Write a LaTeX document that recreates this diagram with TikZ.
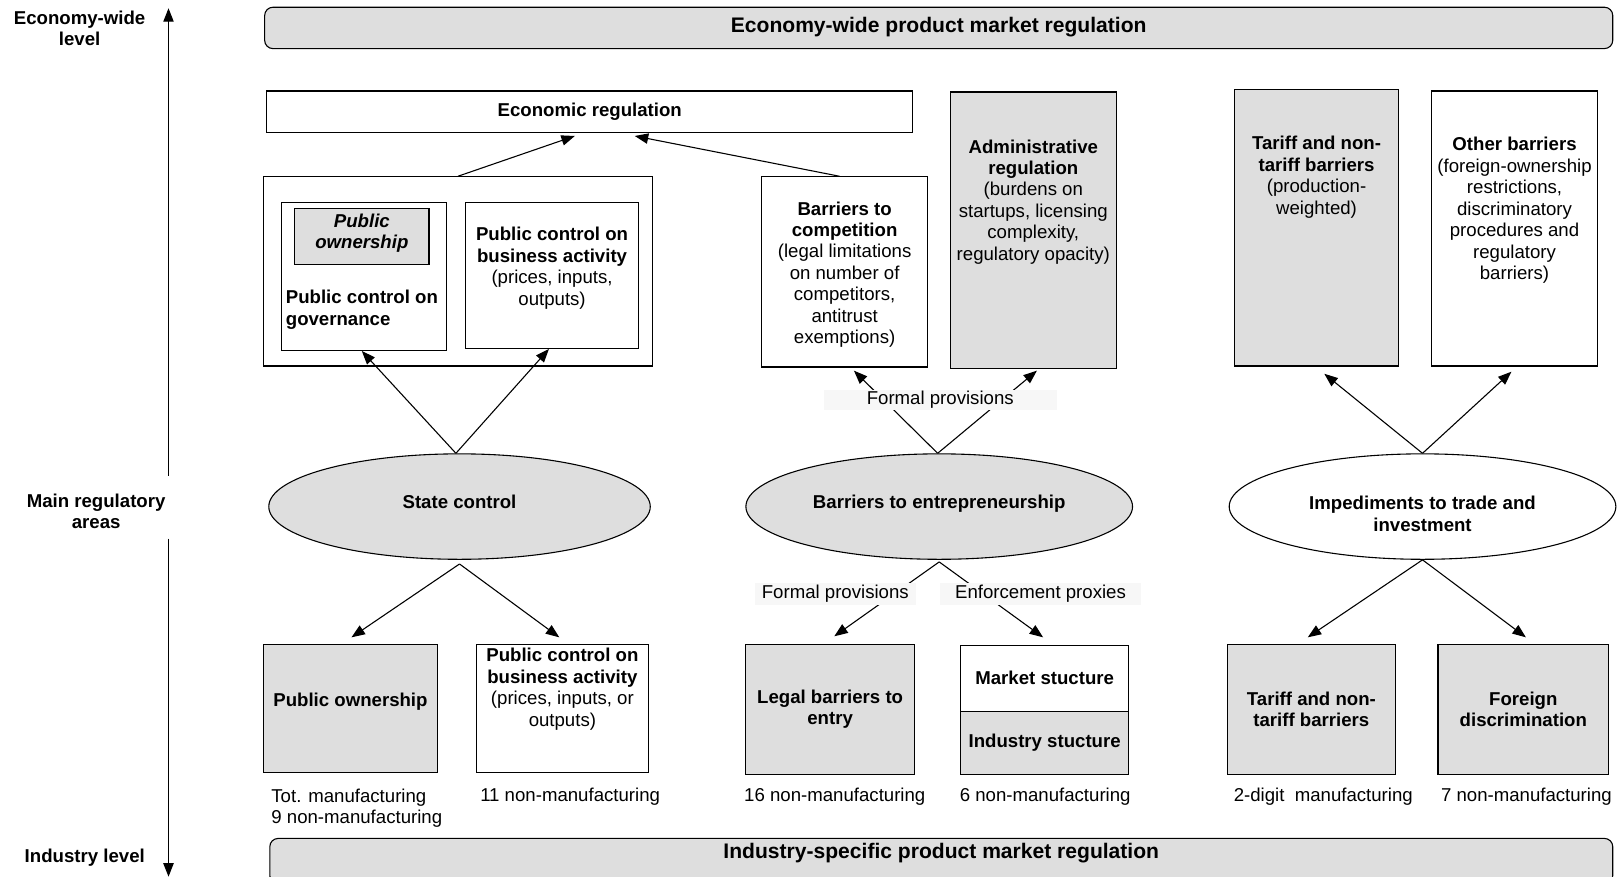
\documentclass[tikz,border=0pt]{standalone}
\usepackage{fontspec}
\setmainfont{Liberation Sans}
\usetikzlibrary{arrows.meta,positioning,shapes.geometric}
\newcommand{\pmrfont}{\fontsize{10.25}{11.8}\selectfont}
\newcommand{\pmrbigfont}{\fontsize{11.6}{13.3}\selectfont}
\tikzset{
  pmr-box/.style={draw=black, fill=white, line width=0.6pt, inner sep=0pt, align=center, font=\pmrfont\bfseries},
  pmr-grey/.style={pmr-box, fill=black!13},
  pmr-area/.style={ellipse, draw=black, line width=0.6pt, align=center, font=\pmrfont\bfseries, inner sep=0pt},
  pmr-banner/.style={draw=black, fill=black!13, rounded corners=0.16cm, line width=0.6pt, font=\pmrbigfont\bfseries},
  pmr-tag/.style={fill=black!3, font=\pmrfont, inner sep=0pt},
  pmr-text/.style={font=\pmrfont, align=center, inner sep=0pt},
  pmr-level/.style={font=\pmrfont\bfseries, align=center, inner sep=0pt}
}
\begin{document}
\begin{tikzpicture}[>={Triangle[length=0.26cm,width=0.2cm]}, line width=0.6pt]
  \useasboundingbox (0,0) rectangle (31.36,-16.96);
  % level axis
  \node[pmr-level] (lvtop) at (1.54,-0.55) {Economy-wide\\level};
  \node[pmr-level] (lvmid) at (1.86,-9.89) {Main regulatory\\areas};
  \node[pmr-level] (lvbot) at (1.64,-16.6) {Industry level};
  \coordinate (axtop) at (3.26,-0.16);
  \coordinate (axupper) at (3.26,-9.2);
  \coordinate (axlower) at (3.26,-10.42);
  \coordinate (axbot) at (3.26,-16.96);
  \draw[->] (axupper) -- (axtop);
  \draw[->] (axlower) -- (axbot);
  % banners
  \node[pmr-banner, minimum width=26.08cm, minimum height=0.8cm, text depth=0.1cm] (ewbar) at (18.16,-0.54) {Economy-wide product market regulation};
  \node[pmr-banner, minimum width=25.98cm, minimum height=0.88cm] (indbar) at (18.21,-16.66) {};
  \node[pmr-level, font=\pmrbigfont\bfseries] (indtitle) at (indbar.north) [yshift=-0.3cm] {Industry-specific product market regulation};
  % economy-wide indicators
  \node[pmr-box, minimum width=12.5cm, minimum height=0.8cm] (econ) at (11.41,-2.16) {Economic regulation};
  \node[pmr-box, minimum width=7.52cm, minimum height=3.66cm] (stbox) at (8.86,-5.25) {};
  \node[pmr-box, minimum width=3.2cm, minimum height=2.86cm] (govbox) at (7.04,-5.35) {};
  \node[pmr-grey, minimum width=2.6cm, minimum height=1.08cm, text depth=0.22cm, font=\pmrfont\bfseries\itshape] (pubown) at (7.0,-4.58) {Public\\ownership};
  \node[pmr-text, anchor=west, align=left, font=\pmrfont\bfseries] (govtext) at (5.52,-5.99) {Public control on\\governance};
  \node[pmr-box, minimum width=3.36cm, minimum height=2.82cm] (bizbox) at (10.68,-5.33) {};
  \node[pmr-text, anchor=north] (biztext) at (bizbox.north) [yshift=-0.48cm] {\textbf{Public control on}\\\textbf{business activity}\\(prices, inputs,\\outputs)};
  \node[pmr-box, minimum width=3.2cm, minimum height=3.68cm] (bcomp) at (16.34,-5.26) {};
  \node[pmr-text, anchor=north] (bcomptext) at (bcomp.north) [yshift=-0.48cm] {\textbf{Barriers to}\\\textbf{competition}\\(legal limitations\\on number of\\competitors,\\antitrust\\exemptions)};
  \node[pmr-grey, minimum width=3.22cm, minimum height=5.34cm] (admin) at (19.99,-4.45) {};
  \node[pmr-text, anchor=north] (admintext) at (admin.north) [yshift=-0.92cm] {\textbf{Administrative}\\\textbf{regulation}\\(burdens on\\startups, licensing\\complexity,\\regulatory opacity)};
  \node[pmr-grey, minimum width=3.18cm, minimum height=5.34cm] (tarbox) at (25.47,-4.41) {};
  \node[pmr-text, anchor=north] (tartext) at (tarbox.north) [yshift=-0.9cm] {\textbf{Tariff and non-}\\\textbf{tariff barriers}\\(production-\\weighted)};
  \node[pmr-box, minimum width=3.2cm, minimum height=5.32cm] (othbox) at (29.3,-4.42) {};
  \node[pmr-text, anchor=north] (othtext) at (othbox.north) [yshift=-0.9cm] {\textbf{Other barriers}\\(foreign-ownership\\restrictions,\\discriminatory\\procedures and\\regulatory\\barriers)};
  % main regulatory areas
  \node[pmr-area, fill=black!13, minimum width=7.38cm, minimum height=2.04cm, text depth=0.2cm] (stctl) at (8.89,-9.8) {State control};
  \node[pmr-area, fill=black!13, minimum width=7.48cm, minimum height=2.04cm, text depth=0.2cm] (entr) at (18.17,-9.8) {Barriers to entrepreneurship};
  \node[pmr-area, fill=white, minimum width=7.48cm, minimum height=2.04cm, text height=0.95cm] (trade) at (27.52,-9.8) {Impediments to trade and\\investment};
  % industry-level indicators
  \node[pmr-grey, minimum width=3.36cm, minimum height=2.48cm, text depth=0.32cm] (pubownb) at (6.78,-13.7) {Public ownership};
  \node[pmr-box, minimum width=3.32cm, minimum height=2.48cm] (bizctl) at (10.88,-13.7) {};
  \node[pmr-text, anchor=north] (bizctltext) at (bizctl.north) [yshift=-0.08cm] {\textbf{Public control on}\\\textbf{business activity}\\(prices, inputs, or\\outputs)};
  \node[pmr-grey, minimum width=3.28cm, minimum height=2.52cm] (legal) at (16.06,-13.72) {Legal barriers to\\entry};
  \node[pmr-box, minimum width=3.26cm, minimum height=1.28cm] (market) at (20.21,-13.12) {Market stucture};
  \node[pmr-grey, minimum width=3.26cm, minimum height=1.22cm] (industry) at (20.21,-14.37) {Industry stucture};
  \node[pmr-grey, minimum width=3.26cm, minimum height=2.52cm] (tarbot) at (25.37,-13.72) {Tariff and non-\\tariff barriers};
  \node[pmr-grey, minimum width=3.3cm, minimum height=2.52cm] (foreign) at (29.47,-13.72) {Foreign\\discrimination};
  % coverage
  \node[pmr-text, anchor=west, align=left] (covpo) at (5.24,-15.63) {Tot. manufacturing\\9 non-manufacturing};
  \node[pmr-text] (covbiz) at (11.03,-15.42) {11 non-manufacturing};
  \node[pmr-text] (covlegal) at (16.15,-15.42) {16 non-manufacturing};
  \node[pmr-text] (covmkt) at (20.22,-15.42) {6 non-manufacturing};
  \node[pmr-text] (covtar) at (25.6,-15.42) {2-digit\ \ manufacturing};
  \node[pmr-text] (covfor) at (29.53,-15.42) {7 non-manufacturing};
  % links upwards
  \draw[->] (stbox.north) -- ([xshift=-0.29cm,yshift=-0.06cm]econ.south);
  \draw[->] ([xshift=-0.1cm]bcomp.north) -- ([xshift=0.87cm,yshift=-0.06cm]econ.south);
  \draw[->] ([xshift=-0.07cm]stctl.north) -- ([xshift=-0.04cm]govbox.south);
  \draw[->] ([xshift=-0.07cm]stctl.north) -- ([xshift=-0.06cm]bizbox.south);
  \draw[->] ([xshift=-0.03cm]entr.north) -- ([xshift=0.18cm,yshift=-0.06cm]bcomp.south);
  \draw[->] ([xshift=-0.03cm]entr.north) -- ([xshift=0.07cm,yshift=-0.04cm]admin.south);
  \node[pmr-tag, minimum width=4.5cm, minimum height=0.4cm] (tagup) at (18.19,-7.74) {Formal provisions};
  \draw[->] (trade.north) -- ([xshift=0.15cm,yshift=-0.14cm]tarbox.south);
  \draw[->] (trade.north) -- ([xshift=-0.06cm,yshift=-0.1cm]othbox.south);
  % links downwards
  \draw[->] ([yshift=-0.08cm]stctl.south) -- ([xshift=0.02cm,yshift=0.12cm]pubownb.north);
  \draw[->] ([yshift=-0.08cm]stctl.south) -- ([xshift=-0.06cm,yshift=0.12cm]bizctl.north);
  \draw[->] ([yshift=-0.04cm]entr.south) -- ([xshift=0.08cm,yshift=0.14cm]legal.north);
  \draw[->] ([yshift=-0.04cm]entr.south) -- ([xshift=-0.03cm,yshift=0.14cm]market.north);
  \node[pmr-tag, minimum width=3.12cm, minimum height=0.42cm] (tagformal) at (16.16,-11.49) {Formal provisions};
  \node[pmr-tag, minimum width=3.9cm, minimum height=0.42cm] (tagenf) at (20.13,-11.49) {Enforcement proxies};
  \draw[->] (trade.south) -- ([xshift=-0.07cm,yshift=0.12cm]tarbot.north);
  \draw[->] (trade.south) -- ([xshift=0.05cm,yshift=0.12cm]foreign.north);
\end{tikzpicture}
\end{document}
